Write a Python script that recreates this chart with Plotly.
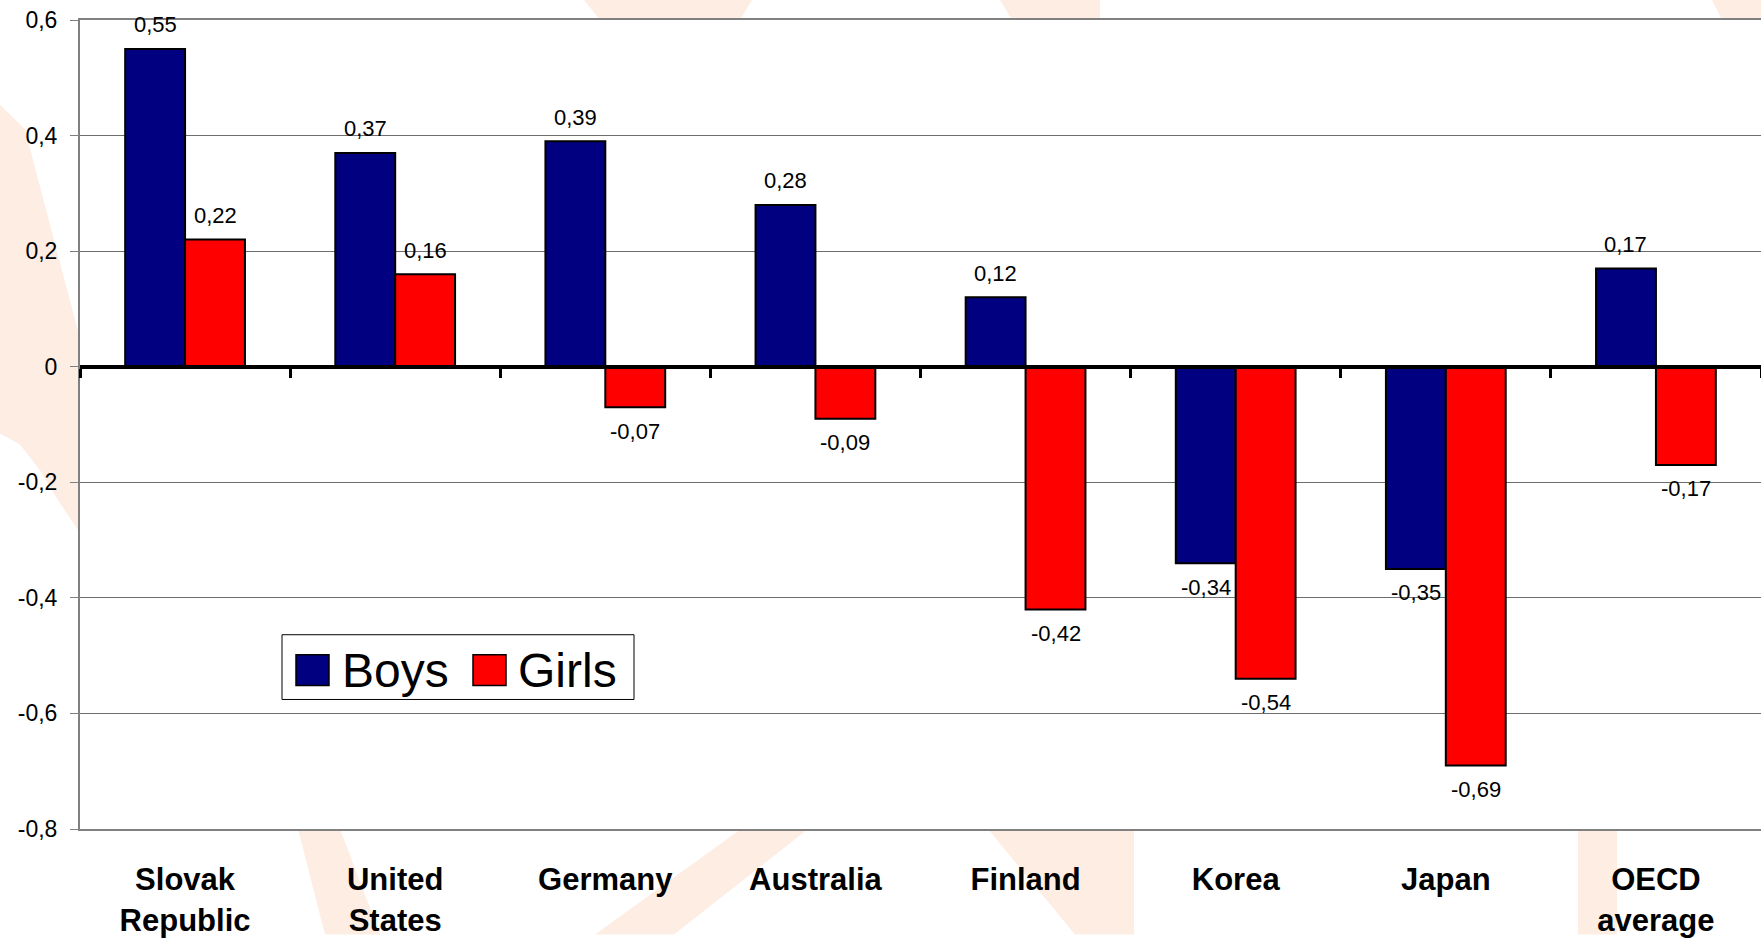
import plotly.graph_objects as go

# ---- data ----
categories = ["Slovak<br>Republic", "United<br>States", "Germany", "Australia",
              "Finland", "Korea", "Japan", "OECD<br>average"]
boys = [0.55, 0.37, 0.39, 0.28, 0.12, -0.34, -0.35, 0.17]
girls = [0.22, 0.16, -0.07, -0.09, -0.42, -0.54, -0.69, -0.17]
series_names = ["Boys", "Girls"]
ytick_vals = [-0.8, -0.6, -0.4, -0.2, 0, 0.2, 0.4, 0.6]
ytick_text = ["-0,8", "-0,6", "-0,4", "-0,2", "0", "0,2", "0,4", "0,6"]

# ---- style ----
W, H = 1761, 938
ML, MR, MT, MB = 80, 0, 20, 106
PW, PH = W - ML - MR, H - MT - MB
BOYS_C, GIRLS_C = "#000080", "#FF0000"
FONT = "Liberation Sans, Arial, sans-serif"
WM = "#FDEDE3"  # faint watermark colour


def fmt(v):
    return f"{v:.2f}".replace(".", ",")


def px(x):
    return (x - ML) / PW


def py(y):
    return (MT + PH - y) / PH


fig = go.Figure()
fig.add_trace(go.Bar(x=categories, y=boys, name=series_names[0],
                     marker=dict(color=BOYS_C, line=dict(color="black", width=2)),
                     showlegend=False, hoverinfo="x+y"))
fig.add_trace(go.Bar(x=categories, y=girls, name=series_names[1],
                     marker=dict(color=GIRLS_C, line=dict(color="black", width=2)),
                     showlegend=False, hoverinfo="x+y"))
# invisible helper on the overlay axis that draws the zero line with its ticks
fig.add_trace(go.Scatter(x=categories, y=boys, xaxis="x2", mode="markers",
                         marker=dict(opacity=0), showlegend=False, hoverinfo="skip"))

annotations = []
for series, shift in ((boys, -30), (girls, 30)):
    for c, v in zip(categories, series):
        annotations.append(dict(x=c, y=v, xref="x", yref="y", text=fmt(v),
                                showarrow=False, xshift=shift,
                                yshift=24 if v >= 0 else -24,
                                font=dict(size=22, color="black", family=FONT)))

# manual legend (large swatches like the original)
shapes = []
shapes.append(dict(type="rect", xref="paper", yref="paper", layer="above",
                   x0=px(282), x1=px(634), y0=py(702), y1=py(637),
                   fillcolor="white", line=dict(color="black", width=1)))
for (x0, col) in ((296, BOYS_C), (473, GIRLS_C)):
    shapes.append(dict(type="rect", xref="paper", yref="paper", layer="above",
                       x0=px(x0), x1=px(x0 + 33), y0=py(688), y1=py(657),
                       fillcolor=col, line=dict(color="black", width=1.5)))
for (x0, name) in ((340, series_names[0]), (516, series_names[1])):
    annotations.append(dict(x=px(x0), y=py(673), xref="paper", yref="paper",
                            xanchor="left", yanchor="middle", text=name,
                            showarrow=False,
                            font=dict(size=48, color="black", family=FONT)))

# faint watermark shapes in the margins (behind the white plot area)
wm_polys = [
    [(0, 105), (25, 130), (80, 340), (80, 535), (60, 505), (40, 472), (20, 446), (0, 435)],
    [(298, 832), (340, 832), (380, 938), (325, 938)],
    [(741, 832), (808, 832), (674, 938), (595, 938)],
    [(988, 832), (1134, 832), (1134, 938), (1075, 938)],
    [(1578, 832), (1617, 832), (1617, 938), (1578, 938)],
    [(584, 0), (752, 0), (740, 20), (600, 20)],
    [(1000, 0), (1100, 0), (1100, 20), (1012, 20)],
    [(1712, 0), (1761, 0), (1761, 20), (1722, 20)],
]
for poly in wm_polys:
    path = "M " + " L ".join(f"{px(x):.5f},{py(y):.5f}" for x, y in poly) + " Z"
    shapes.append(dict(type="path", xref="paper", yref="paper", layer="below",
                       path=path, fillcolor=WM, line=dict(width=0)))

fig.update_layout(
    width=W, height=H,
    margin=dict(l=ML, r=MR, t=MT, b=MB, pad=0),
    paper_bgcolor="white", plot_bgcolor="white",
    barmode="group", bargap=0.43, bargroupgap=0,
    font=dict(family=FONT, color="black"),
    showlegend=False,
    xaxis=dict(type="category", categoryarray=categories, range=[-0.5, 7.5],
               showline=True, linecolor="#808080", linewidth=2, mirror=True,
               ticks="", showgrid=False, ticklabelstandoff=22,
               tickfont=dict(size=31, color="black", family=FONT, weight="bold")),
    xaxis2=dict(type="category", categoryarray=categories, range=[-0.5, 7.5],
                overlaying="x", anchor="free", position=0.8 / 1.4,
                showline=True, linecolor="black", linewidth=4,
                ticks="outside", tickson="boundaries", ticklen=9, tickwidth=3,
                tickcolor="black", showticklabels=False, showgrid=False),
    yaxis=dict(range=[-0.8, 0.6], tickvals=ytick_vals, ticktext=ytick_text,
               showgrid=True, gridcolor="#6e6e6e", gridwidth=1,
               zeroline=False, showline=True, linecolor="#808080", linewidth=2,
               ticks="outside", ticklen=8, tickcolor="#808080", tickwidth=1,
               ticklabelstandoff=8,
               tickfont=dict(size=23, color="black", family=FONT)),
    annotations=annotations,
    shapes=shapes,
)

fig.write_html("out.html",
               config={"displayModeBar": False},
               post_script="document.body.style.margin='0';document.body.style.overflow='hidden';")
